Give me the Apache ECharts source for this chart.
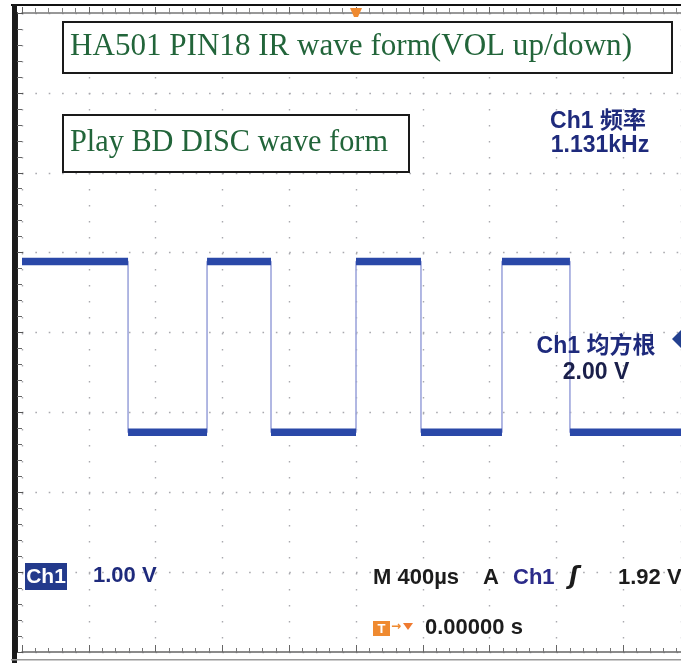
<!DOCTYPE html>
<html><head><meta charset="utf-8">
<script src="https://cdn.jsdelivr.net/npm/echarts@6/dist/echarts.min.js"></script>
<style>html,body{margin:0;padding:0;background:#fff}#c{width:681px;height:663px}</style>
</head><body><div id="c"></div>
<script>
// ---- data ----
const timeRangeUs = [-2000, 1946];          // visible window (screen is cropped on the right), 400 us/div
const voltRange = [-2, 6];                  // 8 div x 1.00 V
const edgeTimesUs = [-1365, -892, -509, 0, 389, 874, 1281];
const segmentLevelsV = [2.89, 0.75, 2.89, 0.75, 2.89, 0.75, 2.89, 0.75];
const triggerLevelV = 1.92;
const titleLines = ['HA501 PIN18 IR wave form(VOL up/down)', 'Play BD DISC wave form'];
const freqLabel = ['Ch1 频率', '1.131kHz'];
const rmsLabel = ['Ch1 均方根', '2.00 V'];
const chLabel = ['Ch1', '1.00 V'];
const timebaseLabel = ['M 400µs', 'A', 'Ch1', 'ʃ', '1.92 V'];
const triggerTimeLabel = '0.00000 s';

// ---- build series ----
const bounds = [timeRangeUs[0], ...edgeTimesUs, timeRangeUs[1]];
const thinPts = [], thickPts = [];
segmentLevelsV.forEach((v, i) => {
  thinPts.push([bounds[i], v], [bounds[i + 1], v]);
  if (i > 0) thickPts.push([bounds[i], '-']);
  thickPts.push([bounds[i], v], [bounds[i + 1], v]);
});

const chart = echarts.init(document.getElementById('c'), null, {renderer: 'canvas'});
const gridCol = '#a9a9ae';
chart.setOption({
  backgroundColor: '#ffffff',
  animation: false,
  grid: {left: 22, right: 0, top: 13, bottom: 11},
  xAxis: [{
    type: 'value', min: timeRangeUs[0], max: timeRangeUs[1], interval: 400, position: 'bottom',
    axisLine: {show: true, onZero: false, lineStyle: {color: '#666', width: 1.5}},
    axisTick: {show: true, inside: true, length: 7, lineStyle: {color: '#666'}},
    minorTick: {show: true, splitNumber: 5, length: 4, lineStyle: {color: '#777'}},
    axisLabel: {show: false},
    splitLine: {show: true, lineStyle: {color: gridCol, width: 1.4, type: [1.6, 14.4]}}
  }, {
    type: 'value', min: timeRangeUs[0], max: timeRangeUs[1], interval: 400, position: 'top',
    axisLine: {show: true, onZero: false, lineStyle: {color: '#777', width: 1.5}},
    axisTick: {show: true, inside: false, length: 6, lineStyle: {color: '#666'}},
    minorTick: {show: true, splitNumber: 5, length: 5, lineStyle: {color: '#888'}},
    axisLabel: {show: false}, splitLine: {show: false}
  }],
  yAxis: [{
    type: 'value', min: voltRange[0], max: voltRange[1], interval: 1, offset: 5,
    axisLine: {show: true, onZero: false, lineStyle: {color: '#222', width: 2}},
    axisTick: {show: true, inside: true, length: 6, lineStyle: {color: '#555'}},
    minorTick: {show: true, splitNumber: 5, length: 5, lineStyle: {color: '#666'}},
    axisLabel: {show: false},
    splitLine: {show: true, lineStyle: {color: gridCol, width: 1.4, type: [1.6, 11.76]}}
  }],
  series: [{
    type: 'line', data: thinPts, showSymbol: false, silent: true,
    lineStyle: {color: '#9ea6dc', width: 1.6}, z: 2
  }, {
    type: 'line', data: thickPts, showSymbol: false, silent: true, connectNulls: false,
    lineStyle: {color: '#2a48a8', width: 7.5, cap: 'butt'}, z: 3
  }]
});

// ---- annotations ----
const mctx = document.createElement('canvas').getContext('2d');
function fitScale(text, font, w) { mctx.font = font; return w / mctx.measureText(text).width; }
const serif1 = '32px "Liberation Serif", serif';
const sans = 'bold 23px "Liberation Sans", "Noto Sans CJK SC", sans-serif';
const sansS = 'bold 22px "Liberation Sans", "Noto Sans CJK SC", sans-serif';
const navy = '#1e2a7c';
const green = '#22653a';
const trigX = chart.convertToPixel({xAxisIndex: 0}, 0);
const trigY = chart.convertToPixel({yAxisIndex: 0}, triggerLevelV);

function txt(x, y, text, font, fill, align, extra) {
  return Object.assign({type: 'text', x: x, y: y, z: 20,
    style: {text: text, font: font, fill: fill, align: align || 'left', verticalAlign: 'middle'}}, extra || {});
}
const graphics = [
  // outer frame
  {type: 'rect', shape: {x: 11, y: 4, width: 670, height: 2}, style: {fill: '#111'}, z: 30},
  {type: 'rect', shape: {x: 12, y: 4, width: 5, height: 659}, style: {fill: '#1a1a1a'}, z: 30},
  {type: 'rect', shape: {x: 11, y: 659, width: 670, height: 1.5}, style: {fill: '#999'}, z: 30},
  // title boxes
  {type: 'rect', shape: {x: 63, y: 22, width: 609, height: 51}, style: {fill: '#fff', stroke: '#1a1a1a', lineWidth: 2}, z: 15},
  txt(70, 47, titleLines[0], serif1, green, 'left', {scaleX: fitScale(titleLines[0], serif1, 562)}),
  {type: 'rect', shape: {x: 63, y: 115, width: 346, height: 57}, style: {fill: '#fff', stroke: '#1a1a1a', lineWidth: 2}, z: 15},
  txt(70, 143, titleLines[1], serif1, green, 'left', {scaleX: fitScale(titleLines[1], serif1, 318)}),
  // measurements
  txt(598, 122, freqLabel[0], sans, navy, 'center'),
  txt(600, 146, freqLabel[1], sans, navy, 'center'),
  txt(596, 347, rmsLabel[0], sans, navy, 'center'),
  txt(596, 373, rmsLabel[1], sans, '#1a1f4a', 'center'),
  // channel box
  {type: 'rect', shape: {x: 25, y: 563, width: 42, height: 27}, style: {fill: '#233a8c'}, z: 15},
  txt(46, 577, chLabel[0], 'bold 21px "Liberation Sans", sans-serif', '#ffffff', 'center'),
  txt(93, 576, chLabel[1], sansS, navy),
  // timebase line
  txt(373, 578, timebaseLabel[0], sansS, '#1c1c1c'),
  txt(483, 578, timebaseLabel[1], sansS, '#1c1c1c'),
  txt(513, 578, timebaseLabel[2], sansS, '#2b2b8a'),
  txt(569, 578, timebaseLabel[3], 'bold italic 24px "DejaVu Sans", sans-serif', '#1c1c1c'),
  txt(618, 578, timebaseLabel[4], sansS, '#1c1c1c'),
  // trigger position
  {type: 'rect', shape: {x: 373, y: 621, width: 17, height: 15}, style: {fill: '#ef8a30'}, z: 15},
  txt(381.5, 629, 'T', 'bold 13px "Liberation Sans", sans-serif', '#ffffff', 'center'),
  txt(391, 627, '→', 'bold 12px "DejaVu Sans", sans-serif', '#ef8a30'),
  {type: 'polygon', shape: {points: [[403, 623], [413, 623], [408, 630]]}, style: {fill: '#ef7a30'}, z: 15},
  txt(425, 628, triggerTimeLabel, sansS, '#1c1c1c'),
  // trigger time marker (top) and trigger level marker (right)
  {type: 'polygon', shape: {points: [[trigX - 6, 8], [trigX + 6, 8], [trigX + 2, 17], [trigX - 2, 17]]}, style: {fill: '#ef8a30'}, z: 31},
  {type: 'polygon', shape: {points: [[672, trigY], [681, trigY - 9], [681, trigY + 9]]}, style: {fill: '#23408f'}, z: 31}
];
chart.setOption({graphic: graphics});
</script>
</body></html>
